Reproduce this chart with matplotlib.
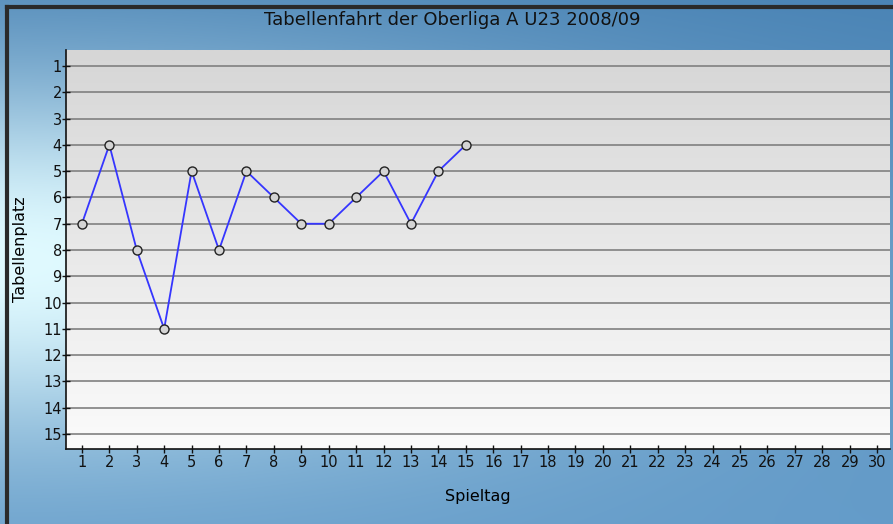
import numpy as np
import matplotlib
matplotlib.use("Agg")
import matplotlib.pyplot as plt
from matplotlib.colors import LinearSegmentedColormap

# Data
spieltag = list(range(1, 16))
platz = [7, 4, 8, 11, 5, 8, 5, 6, 7, 7, 6, 5, 7, 5, 4]
x_ticks = list(range(1, 31))
y_ticks = list(range(1, 16))

fig = plt.figure(figsize=(8.93, 5.24), dpi=100)

# Blue background gradient (light in the middle-left, darker at top/bottom)
bg = fig.add_axes([0, 0, 1, 1], zorder=0)
h, w = 524, 893
yy = np.linspace(0, 1, h)[:, None]
xx = np.linspace(0, 1, w)[None, :]
light = np.exp(-((yy - 0.5) / 0.36) ** 2) * np.exp(-(xx / 0.7) ** 2)
top = np.array([0x48, 0x82, 0xb4]) / 255
bot = np.array([0x62, 0x9a, 0xc8]) / 255
base = top[None, None, :] * (1 - yy[..., None]) + bot[None, None, :] * yy[..., None]
hi = np.array([0xe0, 0xfa, 0xff]) / 255
img = base * (1 - light[..., None]) + hi[None, None, :] * light[..., None]
bg.imshow(img, aspect="auto", extent=[0, 1, 0, 1], origin="upper")
bg.plot([0.0075, 0.0075], [0, 0.986], color="#2a2a2a", lw=3, transform=bg.transAxes)
bg.plot([0.0075, 1], [0.986, 0.986], color="#2a2a2a", lw=3, transform=bg.transAxes)
bg.set_xlim(0, 1)
bg.set_ylim(0, 1)
bg.axis("off")

ax = fig.add_axes([66 / w, 1 - 449 / h, (890 - 66) / w, (449 - 50) / h], zorder=1)
ax.set_facecolor("none")
# grey gradient plot area
grad = np.linspace(0, 1, 256)[:, None]
cmap = LinearSegmentedColormap.from_list("g", ["#d6d6d6", "#fbfbfb"])
ax.imshow(grad, aspect="auto", cmap=cmap, extent=[0.42, 30.47, 15.57, 0.39],
          origin="upper", zorder=0)

for y in y_ticks:
    ax.axhline(y, color="#808080", lw=1.2, zorder=1)

ax.plot(spieltag, platz, color="#3535ff", lw=1.3, marker="o", markersize=6.5,
        markerfacecolor="#d4d4d4", markeredgecolor="#222222", markeredgewidth=1,
        zorder=3)

ax.set_xlim(0.42, 30.47)
ax.set_ylim(15.57, 0.39)
ax.set_xticks(x_ticks)
ax.set_yticks(y_ticks)
ax.tick_params(direction="inout", length=6, width=1, labelsize=10.5, colors="#111111")
ax.tick_params(axis="x", pad=1)
ax.tick_params(axis="y", pad=0)
for s in ["top", "right"]:
    ax.spines[s].set_visible(False)
for s in ["left", "bottom"]:
    ax.spines[s].set_color("#111111")
    ax.spines[s].set_linewidth(1.2)

ax.set_xlabel("Spieltag", fontsize=11.5, labelpad=14)
ax.set_ylabel("Tabellenplatz", fontsize=11.5, labelpad=11)

fig.text(452 / w, 1 - 20 / h, "Tabellenfahrt der Oberliga A U23 2008/09",
         ha="center", va="center", fontsize=13, color="#111111")

fig.savefig("out.png", dpi=100)
